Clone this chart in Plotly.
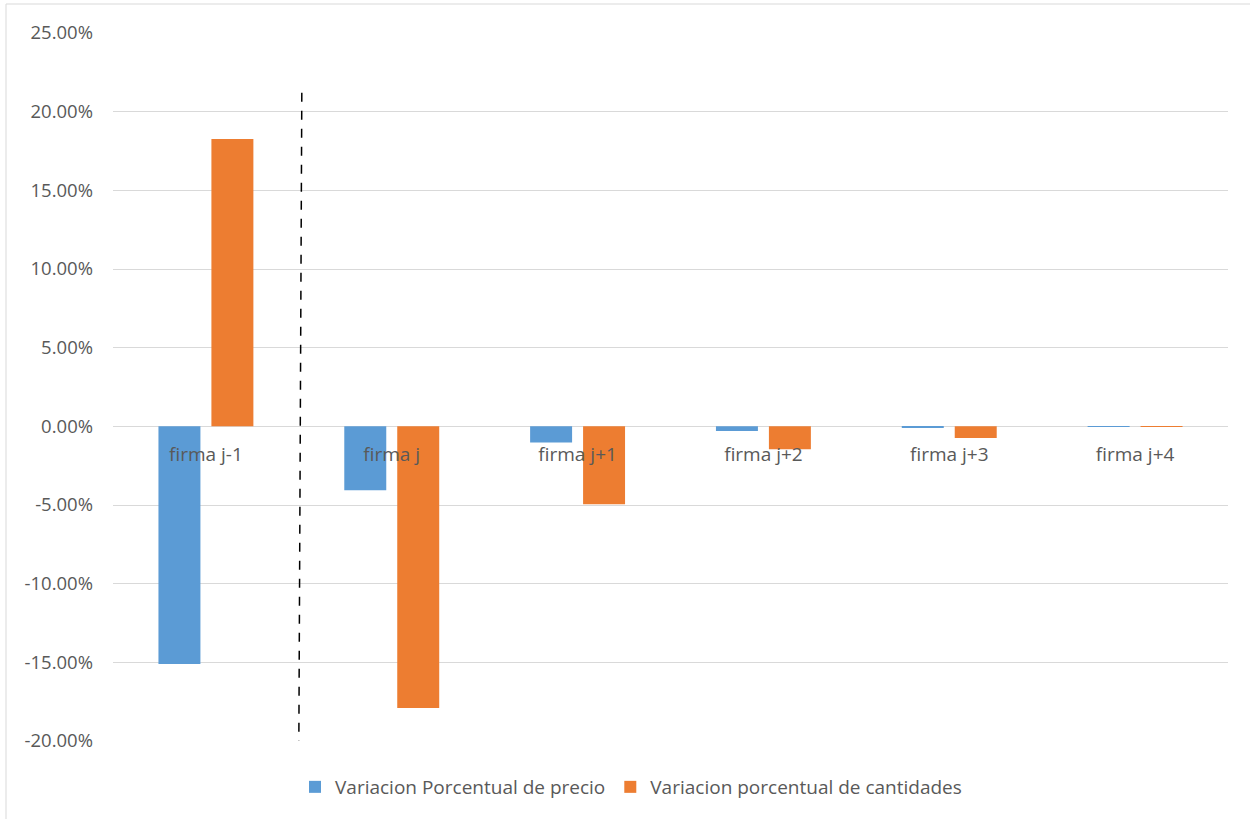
import plotly.graph_objects as go

categories = ["firma j-1", "firma j", "firma j+1", "firma j+2", "firma j+3", "firma j+4"]
precio = [-0.1510, -0.0406, -0.0102, -0.0030, -0.0010, -0.0003]
cantidades = [0.1827, -0.1790, -0.0495, -0.0146, -0.0074, -0.0004]
y_ticks = [-0.20, -0.15, -0.10, -0.05, 0.0, 0.05, 0.10, 0.15, 0.20, 0.25]
y_labels = ["-20.00%", "-15.00%", "-10.00%", "-5.00%", "0.00%", "5.00%", "10.00%", "15.00%", "20.00%", "25.00%"]

W, H = 1250, 819
ml, mr, mt, mb = 113, 22, 33, 78
pw, ph = W - ml - mr, H - mt - mb
ymin, ymax = -0.20, 0.25

font = "'Open Sans', sans-serif"
txt = "#595959"

fig = go.Figure()
fig.add_trace(go.Bar(x=categories, y=precio, name="Variacion Porcentual de precio",
                     marker=dict(color="#5B9BD5", line=dict(width=0))))
fig.add_trace(go.Bar(x=categories, y=cantidades, name="Variacion porcentual de cantidades",
                     marker=dict(color="#ED7D31", line=dict(width=0))))

# dashed separator between first and second firm
fig.add_shape(type="line", xref="x", yref="y", x0=0.516, x1=0.5, y0=0.212, y1=-0.2025,
              line=dict(color="black", width=1.5, dash="dash"))

# outer chart border
fig.add_shape(type="rect", xref="paper", yref="paper",
              x0=(6 - ml) / pw, x1=1.2, y0=-0.3, y1=1 + (mt - 4) / ph,
              line=dict(color="#D9D9D9", width=1), fillcolor="rgba(0,0,0,0)", layer="below")

fig.update_layout(
    width=W, height=H,
    margin=dict(l=ml, r=mr, t=mt, b=mb),
    paper_bgcolor="white", plot_bgcolor="white",
    barmode="group", bargap=0.43, bargroupgap=0.2075,
    font=dict(family=font, color=txt, size=19),
    showlegend=True,
    legend=dict(orientation="h", x=(631 - ml) / pw, xanchor="center",
                y=(mt + ph - 787) / ph, yanchor="middle",
                font=dict(size=19, color=txt), itemwidth=30, traceorder="normal"),
    xaxis=dict(type="category", anchor="free", position=(0 - ymin) / (ymax - ymin),
               showline=False, showgrid=False, zeroline=False,
               ticks="outside", ticklen=11, tickcolor="rgba(0,0,0,0)",
               tickfont=dict(size=19, color=txt)),
    yaxis=dict(range=[ymin, ymax], tickvals=y_ticks, ticktext=y_labels,
               showgrid=True, gridcolor="#D9D9D9", gridwidth=1,
               zeroline=True, zerolinecolor="#D9D9D9", zerolinewidth=1,
               showline=False, ticks="", ticklabelstandoff=19,
               tickfont=dict(size=18.5, color=txt)),
)

fig.write_html("out.html")
